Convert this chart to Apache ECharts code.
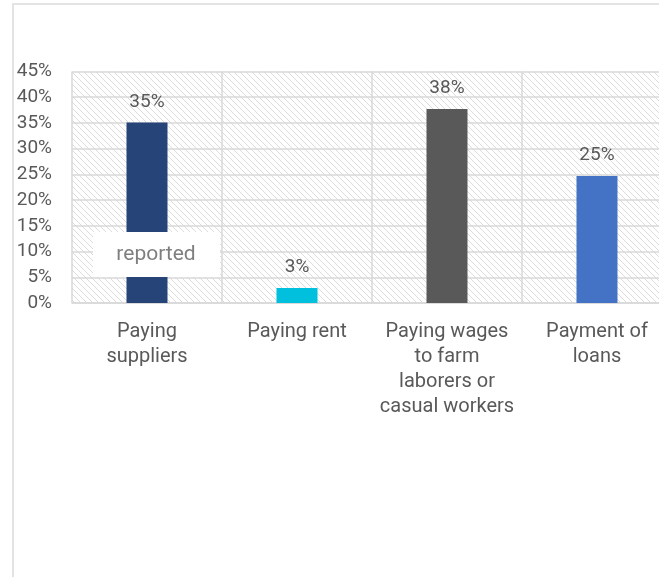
<!DOCTYPE html>
<html>
<head>
<meta charset="utf-8">
<script src="https://cdn.jsdelivr.net/npm/echarts@6/dist/echarts.min.js"></script>
<style>html,body{margin:0;padding:0;background:#fff;overflow:hidden;width:659px;height:577px;}#c{width:700px;height:577px;}</style>
</head>
<body>
<div id="c"></div>
<script>
const categories = ["Paying\nsuppliers", "Paying rent", "Paying wages\nto farm\nlaborers or\ncasual workers", "Payment of\nloans"];
const values = [35.1, 2.9, 37.7, 24.7];
const barColors = ["#264478", "#00C0DE", "#595959", "#4472C4"];
const yTicks = { min: 0, max: 45, interval: 5 };
const overlayText = "reported";

const FONT = "Roboto";

function hatch() {
  const c = document.createElement('canvas');
  const s = 6;
  c.width = s; c.height = s;
  const g = c.getContext('2d');
  g.fillStyle = '#ffffff';
  g.fillRect(0, 0, s, s);
  g.strokeStyle = '#dcdcdc';
  g.lineWidth = 1;
  g.beginPath();
  g.moveTo(-1, -1); g.lineTo(s + 1, s + 1);
  g.moveTo(-1, s - 1); g.lineTo(1, s + 1);
  g.moveTo(s - 1, -1); g.lineTo(s + 1, 1);
  g.stroke();
  return c;
}

const chart = echarts.init(document.getElementById('c'), null, { renderer: 'canvas' });
chart.setOption({
  animation: false,
  backgroundColor: '#ffffff',
  grid: {
    left: 72, top: 71.5, right: 28, bottom: 274,
    show: true,
    borderWidth: 0,
    backgroundColor: { image: hatch(), repeat: 'repeat' }
  },
  xAxis: {
    type: 'category',
    data: categories,
    axisLine: { show: true, lineStyle: { color: '#d9d9d9', width: 1.5 } },
    axisTick: { show: false },
    splitLine: { show: true, lineStyle: { color: '#d9d9d9', width: 1.5 } },
    axisLabel: {
      interval: 0,
      margin: 16,
      color: '#595959',
      fontFamily: FONT,
      fontSize: 20,
      lineHeight: 25,
      align: 'center'
    }
  },
  yAxis: {
    type: 'value',
    min: yTicks.min, max: yTicks.max, interval: yTicks.interval,
    axisLine: { show: false },
    axisTick: { show: false },
    splitLine: { show: true, lineStyle: { color: '#d9d9d9', width: 1.5 } },
    axisLabel: {
      margin: 20,
      color: '#595959',
      fontFamily: FONT,
      fontSize: 19,
      formatter: v => v + '%'
    }
  },
  series: [{
    type: 'bar',
    barWidth: 41,
    data: values.map((v, i) => ({ value: v, itemStyle: { color: barColors[i] } })),
    label: {
      show: true,
      position: 'top',
      distance: 11,
      color: '#595959',
      fontFamily: FONT,
      fontSize: 19,
      formatter: p => Math.round(p.value) + '%'
    }
  }],
  graphic: [
    {
      type: 'rect', silent: true, z: 100,
      shape: { x: 13, y: 4, width: 720, height: 600 },
      style: { fill: 'none', stroke: '#e3e3e3', lineWidth: 2 }
    },
    {
      type: 'rect', z: 100,
      shape: { x: 93, y: 232, width: 127, height: 45 },
      style: { fill: '#ffffff' }
    },
    {
      type: 'text', z: 101,
      x: 156, y: 255,
      style: {
        text: overlayText,
        fill: '#7f7f7f',
        font: '21px "' + FONT + '"',
        align: 'center',
        verticalAlign: 'middle'
      }
    }
  ]
});
</script>
</body>
</html>
